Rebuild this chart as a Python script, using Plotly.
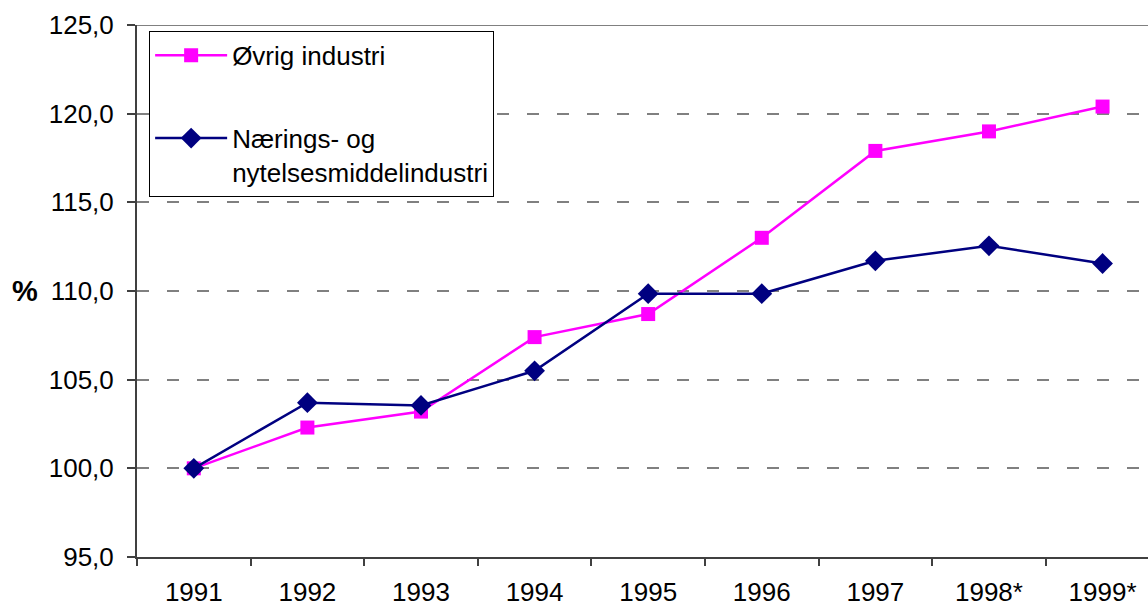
import plotly.graph_objects as go

years = ["1991", "1992", "1993", "1994", "1995", "1996", "1997", "1998*", "1999*"]
ovrig = [100.0, 102.3, 103.2, 107.4, 108.7, 113.0, 117.9, 119.0, 120.4]
naering = [100.0, 103.7, 103.55, 105.5, 109.85, 109.85, 111.7, 112.55, 111.55]
y_ticks = [95, 100, 105, 110, 115, 120, 125]

FONT = "Liberation Sans, Arial, sans-serif"

fig = go.Figure()
fig.add_trace(go.Scatter(
    x=years, y=ovrig, mode="lines+markers", name="Øvrig industri",
    line=dict(color="#FF00FF", width=2.5),
    marker=dict(symbol="square", size=14, color="#FF00FF"),
    legendgroup="a",
))
fig.add_trace(go.Scatter(
    x=years, y=naering, mode="lines+markers", name="Nærings- og<br>nytelsesmiddelindustri",
    line=dict(color="#000080", width=2.5),
    marker=dict(symbol="diamond", size=16, color="#000080"),
    legendgroup="b",
))

fig.update_layout(
    width=1148, height=610,
    margin=dict(l=137, r=0, t=25, b=53),
    paper_bgcolor="white", plot_bgcolor="white",
    separators=",.",
    font=dict(family=FONT, size=26, color="black"),
    showlegend=True,
    legend=dict(
        x=0.012, y=0.989, xanchor="left", yanchor="top",
        bordercolor="black", borderwidth=1, bgcolor="white",
        font=dict(family=FONT, size=26, color="black"),
        traceorder="grouped", tracegroupgap=46, valign="top",
        itemwidth=72,
    ),
    xaxis=dict(
        type="category", range=[-0.5, 8.4],
        showline=True, linecolor="#404040", linewidth=2,
        ticks="outside", ticklen=7, tickcolor="#404040", tickwidth=1.5,
        tickson="boundaries", showgrid=False, ticklabelstandoff=11,
        tickfont=dict(family=FONT, size=26, color="black"),
    ),
    yaxis=dict(
        range=[95, 125], tickvals=y_ticks, tickformat=".1f",
        showline=True, linecolor="#404040", linewidth=2,
        ticks="outside", ticklen=8, tickcolor="#404040", tickwidth=1.5,
        showgrid=True, gridcolor="#808080", gridwidth=2, griddash="12px,18px",
        ticklabelstandoff=8, zeroline=False,
        tickfont=dict(family=FONT, size=26, color="black"),
    ),
    shapes=[dict(type="line", xref="paper", yref="y", x0=0, x1=1, y0=125, y1=125,
                 line=dict(color="#808080", width=2), layer="above")],
    annotations=[dict(text="<b>%</b>", xref="paper", yref="y", x=-0.111, y=110,
                      xanchor="center", yanchor="middle", showarrow=False,
                      font=dict(family=FONT, size=29, color="black"))],
)

fig.write_html("out.html", config={"displayModeBar": False},
               post_script="document.body.style.margin='0';document.body.style.overflow='hidden';")
